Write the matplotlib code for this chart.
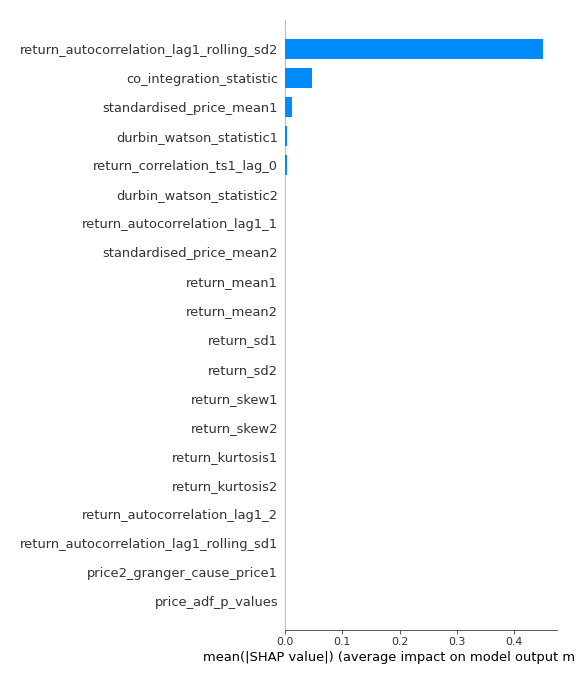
import matplotlib
matplotlib.use("Agg")
import matplotlib.pyplot as plt
import numpy as np

features = [
    "return_autocorrelation_lag1_rolling_sd2",
    "co_integration_statistic",
    "standardised_price_mean1",
    "durbin_watson_statistic1",
    "return_correlation_ts1_lag_0",
    "durbin_watson_statistic2",
    "return_autocorrelation_lag1_1",
    "standardised_price_mean2",
    "return_mean1",
    "return_mean2",
    "return_sd1",
    "return_sd2",
    "return_skew1",
    "return_skew2",
    "return_kurtosis1",
    "return_kurtosis2",
    "return_autocorrelation_lag1_2",
    "return_autocorrelation_lag1_rolling_sd1",
    "price2_granger_cause_price1",
    "price_adf_p_values",
]
mean_abs_shap = [0.4505, 0.0478, 0.0130, 0.0035, 0.0035,
                 0.0, 0.0, 0.0, 0.0, 0.0, 0.0, 0.0, 0.0, 0.0, 0.0,
                 0.0, 0.0, 0.0, 0.0, 0.0]
xticks = [0.0, 0.1, 0.2, 0.3, 0.4]

fig = plt.figure(figsize=(8, 9.5), dpi=72)
ax = fig.add_axes([285.0 / 576, 1 - 630 / 684, (557 - 285.0) / 576, (630 - 20) / 684])

n = len(features)
y_pos = np.arange(n)[::-1]
ax.barh(y_pos, mean_abs_shap, 0.7, align="center", color="#008bfb", zorder=3)
ax.set_yticks(y_pos)
ax.set_yticklabels(features, fontsize=13, color="#333333")
ax.set_ylim(-1, n)
ax.set_xlim(0, 0.475)
ax.set_xticks(xticks)
ax.set_xticklabels([f"{t:.1f}" for t in xticks], fontsize=11, color="#333333")

ax.spines["right"].set_visible(False)
ax.spines["top"].set_visible(False)
ax.spines["bottom"].set_color("#333333")
ax.spines["left"].set_color("#aaaaaa")
ax.spines["left"].set_zorder(1)
ax.tick_params(axis="y", length=0, pad=7)
ax.tick_params(axis="x", color="#333333", labelcolor="#333333")
ax.set_xlabel("mean(|SHAP value|) (average impact on model output magnitude)",
              fontsize=13, color="#000000")

fig.savefig("out.png", dpi=72)
